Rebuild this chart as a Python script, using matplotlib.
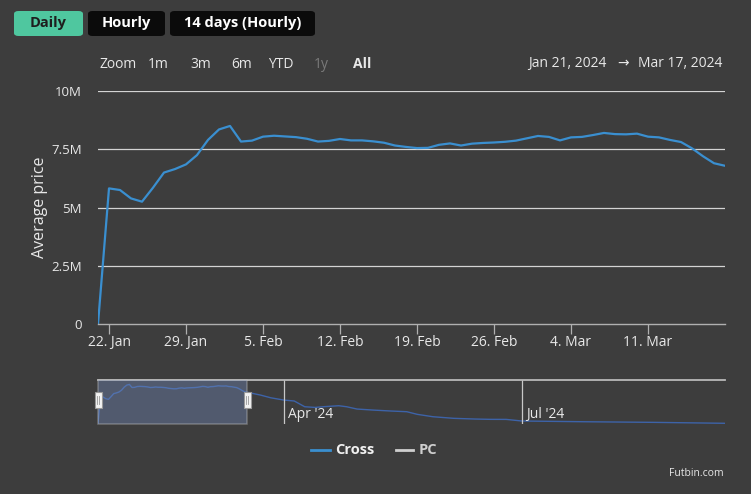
import matplotlib
matplotlib.use("Agg")
import matplotlib.pyplot as plt
import matplotlib.dates as mdates
from matplotlib.patches import FancyBboxPatch, Rectangle
import pandas as pd
import numpy as np

# ---------------- data ----------------
start_date = "2024-01-21"
cross_daily = [0.0, 5.82, 5.75, 5.39, 5.25, 5.85, 6.50, 6.65, 6.85, 7.25,
               7.90, 8.35, 8.50, 7.83, 7.87, 8.04, 8.08, 8.05, 8.02, 7.95,
               7.83, 7.86, 7.94, 7.88, 7.88, 7.84, 7.78, 7.66, 7.60, 7.55,
               7.56, 7.69, 7.75, 7.66, 7.74, 7.77, 7.79, 7.82, 7.87, 7.97,
               8.07, 8.03, 7.88, 8.01, 8.03, 8.11, 8.20, 8.15, 8.14, 8.17,
               8.04, 8.01, 7.90, 7.81, 7.54, 7.20, 6.90, 6.79]  # millions
later_dates = ["2024-03-23", "2024-03-27", "2024-04-01", "2024-04-05", "2024-04-09",
               "2024-04-13", "2024-04-16", "2024-04-22", "2024-04-25", "2024-04-29",
               "2024-05-05", "2024-05-12", "2024-05-18", "2024-05-22", "2024-05-28",
               "2024-06-05", "2024-06-13", "2024-06-19", "2024-06-25", "2024-07-01",
               "2024-07-25", "2024-08-20", "2024-09-17"]
later_values = [6.2, 5.6, 5.1, 4.9, 3.65, 3.5, 3.65, 3.87, 3.65, 3.15,
                2.93, 2.72, 2.57, 2.0, 1.48, 1.13, 0.98, 0.91, 0.9, 0.55,
                0.39, 0.26, 0.05]
x_tick_dates = ["2024-01-22", "2024-01-29", "2024-02-05", "2024-02-12",
                "2024-02-19", "2024-02-26", "2024-03-04", "2024-03-11"]
x_tick_labels = ["22. Jan", "29. Jan", "5. Feb", "12. Feb", "19. Feb",
                 "26. Feb", "4. Mar", "11. Mar"]
y_ticks = [0, 2.5e6, 5e6, 7.5e6, 10e6]
y_tick_labels = ["0", "2.5M", "5M", "7.5M", "10M"]
nav_tick_dates = ["2024-04-01", "2024-07-01"]
nav_tick_labels = ["Apr '24", "Jul '24"]
buttons = ["Daily", "Hourly", "14 days (Hourly)"]
range_buttons = ["1m", "3m", "6m", "YTD", "1y", "All"]
legend_labels = ["Cross", "PC"]
range_text = ("Jan 21, 2024", "Mar 17, 2024")

# ---------------- style ----------------
W, H = 751, 494
BG = "#3d3d3d"
BLUE = "#3a8fd0"
GRID = "#d4d4d4"
TXT = "#e8e8e8"
plt.rcParams['font.family'] = ['Open Sans', 'DejaVu Sans']

def fx(p):
    return p / W

def fy(p):
    return 1 - p / H

fig = plt.figure(figsize=(W / 100, H / 100), dpi=100, facecolor=BG)

dates = pd.date_range(start_date, periods=len(cross_daily), freq="D")
vals = np.array(cross_daily) * 1e6

# ---------------- main axes ----------------
ax = fig.add_axes([fx(98), fy(324), fx(725) - fx(98), fy(91) - fy(324)])
ax.set_facecolor(BG)
ax.plot(dates, vals, color=BLUE, lw=1.6, solid_capstyle="round", solid_joinstyle="round")
ax.set_xlim(pd.Timestamp("2024-01-21"), pd.Timestamp("2024-03-18"))
ax.set_ylim(0, 10e6)
ax.set_yticks(y_ticks)
ax.set_yticklabels(y_tick_labels)
ax.set_xticks(pd.to_datetime(x_tick_dates))
ax.set_xticklabels(x_tick_labels)
for y in y_ticks[1:]:
    ax.axhline(y, color=GRID, lw=0.9, zorder=0)
for s in ["top", "right", "left"]:
    ax.spines[s].set_visible(False)
ax.spines["bottom"].set_color("#b0b0b0")
ax.spines["bottom"].set_linewidth(1.0)
ax.tick_params(axis="y", length=0, pad=11.5, labelcolor=TXT, labelsize=9.5)
ax.tick_params(axis="x", length=7, width=0.9, color="#b0b0b0", pad=1,
               labelcolor=TXT, labelsize=10)
ax.set_ylabel("Average price", color=TXT, fontsize=11.5)
ax.yaxis.set_label_coords((48 - 98) / 627, 0.5)

# ---------------- navigator ----------------
nav = fig.add_axes([fx(98), fy(424), fx(725) - fx(98), fy(380) - fy(424)])
nav.set_facecolor(BG)
nav_dates = list(dates) + list(pd.to_datetime(later_dates))
nav_vals = list(vals) + [v * 1e6 for v in later_values]
nav.plot(nav_dates, nav_vals, color="#3d63a8", lw=1.0)
nav.set_xlim(pd.Timestamp("2024-01-21"), pd.Timestamp("2024-09-16 15:00"))
nav.set_ylim(-0.1e6, 9.46e6)
for s in ["bottom", "right", "left"]:
    nav.spines[s].set_visible(False)
nav.spines["top"].set_color("#b8b8b8")
nav.spines["top"].set_linewidth(1.3)
nav.set_yticks([])
nav.set_xticks([])
for d, lab in zip(nav_tick_dates, nav_tick_labels):
    t = pd.Timestamp(d)
    nav.axvline(t, color="#c8c8c8", lw=0.9)
    nav.text(t + pd.Timedelta(days=1.5), 0.22, lab, transform=nav.get_xaxis_transform(),
             color=TXT, fontsize=10, ha="left", va="center")
# mask over selected range
m0, m1 = pd.Timestamp("2024-01-21"), pd.Timestamp("2024-03-18")
m0n, m1n = mdates.date2num(m0), mdates.date2num(m1)
nav.add_patch(Rectangle((m0n, 0), m1n - m0n, 1, transform=nav.get_xaxis_transform(),
                        facecolor="#7088b8", alpha=0.4, edgecolor="#c0c0c0", lw=1.1,
                        zorder=3, clip_on=False))
for xm in (m0n, m1n):
    hx = nav.transData.transform((xm, 0))[0]
    hxf = hx / fig.bbox.width
    fig.patches.append(Rectangle((hxf - fx(3.5), fy(408)), fx(7), fy(392) - fy(408),
                                 transform=fig.transFigure, facecolor="#f2f2f2",
                                 edgecolor="#999999", lw=0.8, zorder=5))
    for dx in (-1.2, 1.2):
        fig.lines.append(plt.Line2D([hxf + fx(dx), hxf + fx(dx)], [fy(396), fy(404)],
                                    transform=fig.transFigure, color="#999999",
                                    lw=0.6, zorder=6))

# ---------------- top buttons ----------------
btn_boxes = [(14, 83, "#4fc79f", "#1e1e1e"), (88, 165, "#0b0b0b", "#ffffff"),
             (170, 315, "#0b0b0b", "#ffffff")]
for lab, (x0, x1, fc, tc) in zip(buttons, btn_boxes):
    fig.patches.append(FancyBboxPatch((fx(x0), fy(36)), fx(x1) - fx(x0), fy(11) - fy(36),
                                      boxstyle="round,pad=0,rounding_size=0.006",
                                      transform=fig.transFigure, facecolor=fc,
                                      edgecolor="none"))
    fig.text(fx((x0 + x1) / 2), fy(23.5), lab, color=tc, fontsize=10.5,
             fontweight="bold", ha="center", va="center")

# ---------------- range selector ----------------
fig.text(fx(99), fy(65), "Zoom", color=TXT, fontsize=10, ha="left", va="center")
rb_x = [158, 201, 242, 281, 321, 362]
for lab, x in zip(range_buttons, rb_x):
    col = "#7a7a7a" if lab == "1y" else TXT
    fig.text(fx(x), fy(64), lab, color=col, fontsize=10, ha="center", va="center",
             fontweight="bold" if lab == "All" else "normal")
fig.text(fx(567.5), fy(63.5), range_text[0], color=TXT, fontsize=10, ha="center", va="center")
fig.text(fx(623), fy(63.5), "\u2192", color=TXT, fontsize=10, ha="center", va="center")
fig.text(fx(680), fy(63.5), range_text[1], color=TXT, fontsize=10, ha="center", va="center")

# ---------------- legend ----------------
fig.lines.append(plt.Line2D([fx(311), fx(330)], [fy(450), fy(450)], transform=fig.transFigure,
                            color=BLUE, lw=2))
fig.text(fx(335), fy(450), legend_labels[0], color="#f0f0f0", fontsize=10.5,
         fontweight="bold", ha="left", va="center")
fig.lines.append(plt.Line2D([fx(396), fx(413)], [fy(450), fy(450)], transform=fig.transFigure,
                            color="#cfcfcf", lw=2))
fig.text(fx(419), fy(450), legend_labels[1], color="#cfcfcf", fontsize=10.5,
         fontweight="bold", ha="left", va="center")

fig.text(fx(724), fy(473), "Futbin.com", color=TXT, fontsize=7.5, ha="right", va="center")

fig.savefig("out.png", dpi=100, facecolor=BG)
